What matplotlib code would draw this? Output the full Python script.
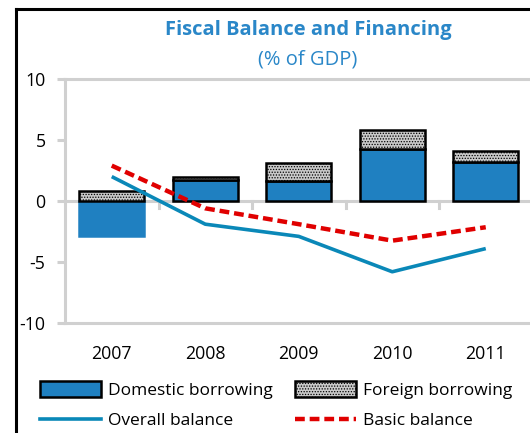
import numpy as np
import matplotlib.pyplot as plt
from matplotlib.lines import Line2D
from matplotlib.patches import Patch

plt.rcParams['font.family'] = ['Open Sans', 'DejaVu Sans']
plt.rcParams['hatch.color'] = '#8c8c8c'
plt.rcParams['hatch.linewidth'] = 0.6

years = ['2007', '2008', '2009', '2010', '2011']
domestic = [-2.9, 1.7, 1.6, 4.3, 3.2]
foreign = [0.8, 0.3, 1.5, 1.5, 0.9]
overall = [2.0, -1.9, -2.9, -5.8, -3.9]
basic = [2.9, -0.6, -1.9, -3.25, -2.15]

W, H = 530, 433
fig = plt.figure(figsize=(W / 100, H / 100), dpi=100)

# outer box, only left and top edges are visible
fig.add_artist(Line2D([16 / W, 16 / W], [0, 1 - 9 / H], color='black', lw=2.2))
fig.add_artist(Line2D([16 / W, 1], [1 - 9 / H, 1 - 9 / H], color='black', lw=2.2))

ax = fig.add_axes([65 / W, 1 - 323 / H, 467.5 / W, 244 / H])
x = np.arange(len(years))
blue = '#1f80c1'

# domestic bars: black outline only where positive
for xi, d, f in zip(x, domestic, foreign):
    ec = 'black' if d > 0 else blue
    ax.bar(xi, d, width=0.69, color=blue, edgecolor=ec, linewidth=1.8, zorder=3)
    base = max(d, 0)
    ax.bar(xi, f, width=0.69, bottom=base, color='#c9c9c9', edgecolor='black',
           hatch='......', linewidth=1.8, zorder=3)

ax.plot(x, overall, color='#0a88b8', lw=2.6, zorder=4, solid_capstyle='butt')
ax.plot(x, basic, color='#e00000', lw=3.2, ls=(0, (2.2, 1.1)), zorder=4)

ax.set_xlim(-0.5, 4.5)
ax.set_ylim(-10, 10)
ax.set_yticks([-10, -5, 0, 5, 10])
ax.set_yticklabels(['-10', '-5', '0', '5', '10'])
gray = '#d0d0d0'
for s in ['left', 'top', 'bottom']:
    ax.spines[s].set_color(gray)
    ax.spines[s].set_linewidth(2.2)
ax.spines['right'].set_visible(False)
ax.axhline(0, color=gray, lw=2.2, zorder=2)
for b in [0.5, 1.5, 2.5, 3.5]:
    ax.plot([b, b], [0, -0.55], color=gray, lw=2.2, zorder=2, clip_on=False)
ax.tick_params(axis='y', length=6, width=2.2, color=gray, labelsize=12.8, pad=8)
ax.tick_params(axis='x', length=0, labelsize=12.8, pad=16)
ax.set_xticks(x)
ax.set_xticklabels(years)

fig.text(308 / W, 1 - 30 / H, 'Fiscal Balance and Financing', ha='center', va='center',
         color='#2a87c8', fontsize=14.5, fontweight='bold')
fig.text(308 / W, 1 - 60 / H, '(% of GDP)', ha='center', va='center',
         color='#2a87c8', fontsize=14.5)

handles = [
    Patch(facecolor=blue, edgecolor='black', linewidth=1.8, label='Domestic borrowing'),
    Patch(facecolor='#c9c9c9', edgecolor='black', hatch='......', linewidth=1.8,
          label='Foreign borrowing'),
    Line2D([], [], color='#0a88b8', lw=2.6, label='Overall balance'),
    Line2D([], [], color='#e00000', lw=3.2, ls=(0, (2.2, 1.1)), label='Basic balance'),
]
fig.legend(handles=[handles[0], handles[2], handles[1], handles[3]], ncol=2,
           loc='upper left', bbox_to_anchor=(40 / W, 1 - 381 / H), frameon=False,
           fontsize=12.5, handlelength=3.5, handleheight=1.0, handletextpad=0.4,
           columnspacing=1.3, labelspacing=0.75, borderpad=0, borderaxespad=0)

fig.savefig('out.png', dpi=100)
